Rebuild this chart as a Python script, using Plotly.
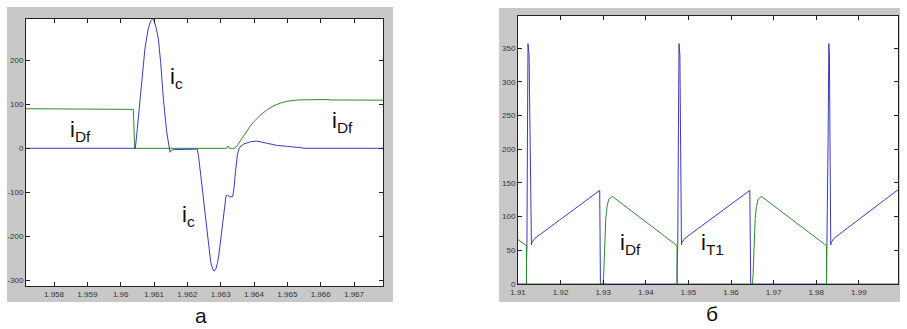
import plotly.graph_objects as go

# ---------------- Panel "а" data ----------------
a_ic_t = [1.95716, 1.96044, 1.96050, 1.96058, 1.96065, 1.96073, 1.96083, 1.96090, 1.96095,
          1.96100, 1.96106, 1.96113, 1.96120, 1.96128, 1.96138, 1.96145, 1.96148, 1.96152,
          1.96158, 1.96220, 1.96230, 1.96234, 1.96240, 1.96250, 1.96263, 1.96270, 1.96275,
          1.96280, 1.96285, 1.96290, 1.96295, 1.96300, 1.96308, 1.96316, 1.96320, 1.96326,
          1.96336, 1.96340, 1.96345, 1.96350, 1.96356, 1.96370, 1.96390, 1.96408, 1.96430,
          1.96450, 1.96470, 1.96500, 1.96530, 1.96545, 1.96550, 1.96787]
a_ic = [0, 0, 45, 113, 175, 228, 273, 290, 294,
        291, 275, 250, 195, 114, 38, -2, -9, -5,
        -3, -2, -2, -20, -60, -138, -224, -258, -272,
        -279, -276, -262, -240, -205, -160, -108, -106, -110,
        -110, -90, -50, -15, 2, 10, 15, 16.5, 13,
        9, 6.5, 4.5, 3, 1, 0, 0]

a_idf_t = [1.95716, 1.95940, 1.95943, 1.96038, 1.96042, 1.96318, 1.96322, 1.96326, 1.96341,
           1.96350, 1.96360, 1.96370, 1.96380, 1.96390, 1.96400, 1.96420, 1.96440, 1.96460,
           1.96480, 1.96500, 1.96530, 1.96570, 1.96620, 1.96628, 1.96787]
a_idf = [90, 90, 88.5, 88.5, 0, 0, 5, 0, 0,
         6, 18, 30, 42, 52, 61, 76, 88, 97,
         103, 107, 110, 111, 111, 110, 109.5]

a_xticks = [1.958, 1.959, 1.960, 1.961, 1.962, 1.963, 1.964, 1.965, 1.966, 1.967]
a_xlabels = ["1.958", "1.959", "1.96", "1.961", "1.962", "1.963", "1.964", "1.965", "1.966", "1.967"]
a_yticks = [-300, -200, -100, 0, 100, 200]
a_ylabels = ["-300", "-200", "-100", "0", "100", "200"]

# ---------------- Panel "б" data ----------------
b_it1_t = [1.91000, 1.91197, 1.91199, 1.91210, 1.91222, 1.91235, 1.91260, 1.91290, 1.91315,
           1.91330, 1.91400, 1.92918, 1.92935, 1.94733, 1.94736, 1.94750, 1.94765, 1.94780,
           1.94800, 1.94815, 1.94837, 1.94850, 1.94920, 1.96441, 1.96463, 1.98241, 1.98244,
           1.98260, 1.98280, 1.98296, 1.98310, 1.98325, 1.98342, 1.98355, 1.98420, 1.99920]
b_it1 = [0, 0, 30, 57, 220, 357, 340, 200, 58,
         62, 68, 139, 0, 0, 30, 57, 220, 357,
         340, 200, 58, 62, 68, 139, 0, 0, 30,
         57, 220, 357, 340, 200, 58, 62, 68, 140]

b_idf_t = [1.91000, 1.91197, 1.91200, 1.92996, 1.93010, 1.93020, 1.93040, 1.93060, 1.93090,
           1.93130, 1.93216, 1.94733, 1.94736, 1.96503, 1.96517, 1.96527, 1.96547, 1.96567,
           1.96597, 1.96637, 1.96715, 1.98241, 1.98244, 1.99920]
b_idf = [66, 57, 0, 0, 12, 35, 72, 97, 115,
         126, 130, 57, 0, 0, 12, 35, 72, 97,
         115, 126, 130, 57, 0, 0]

b_xticks = [1.91, 1.92, 1.93, 1.94, 1.95, 1.96, 1.97, 1.98, 1.99]
b_xlabels = ["1.91", "1.92", "1.93", "1.94", "1.95", "1.96", "1.97", "1.98", "1.99"]
b_yticks = [0, 50, 100, 150, 200, 250, 300, 350]
b_ylabels = ["0", "50", "100", "150", "200", "250", "300", "350"]

BLUE = "#3a3ac4"
GREEN = "#2e8a2e"
GRAY = "#c8c8c8"
W, H = 907, 329


def px_x(p):
    return p / W


def px_y(p):
    return 1 - p / H


def strip(x0, y0, x1, y1):
    return dict(type="rect", xref="paper", yref="paper",
                x0=px_x(x0), x1=px_x(x1), y0=px_y(y1), y1=px_y(y0),
                fillcolor=GRAY, line=dict(width=0), layer="below")


def frame(ox0, oy0, ox1, oy1, ix0, iy0, ix1, iy1):
    return [strip(ox0, oy0, ox1, iy0), strip(ox0, iy1, ox1, oy1),
            strip(ox0, iy0, ix0, iy1), strip(ix1, iy0, ox1, iy1)]


fig = go.Figure()
fig.add_trace(go.Scatter(x=a_idf_t, y=a_idf, mode="lines", line=dict(color=GREEN, width=1),
                         xaxis="x", yaxis="y", showlegend=False))
fig.add_trace(go.Scatter(x=a_ic_t, y=a_ic, mode="lines", line=dict(color=BLUE, width=1),
                         xaxis="x", yaxis="y", showlegend=False))
fig.add_trace(go.Scatter(x=b_it1_t, y=b_it1, mode="lines", line=dict(color=BLUE, width=1),
                         xaxis="x2", yaxis="y2", showlegend=False))
fig.add_trace(go.Scatter(x=b_idf_t, y=b_idf, mode="lines", line=dict(color=GREEN, width=1),
                         xaxis="x2", yaxis="y2", showlegend=False))

tickfont = dict(family="Liberation Sans, Arial", size=8, color="#333333")
common = dict(showgrid=False, zeroline=False, showline=True, linecolor="#222222", linewidth=1,
              ticks="inside", ticklen=4, tickcolor="#222222", mirror="ticks",
              tickfont=tickfont, tickmode="array", automargin=False)

fig.update_layout(
    template="none",
    width=W, height=H,
    margin=dict(l=0, r=0, t=0, b=0, autoexpand=False),
    paper_bgcolor="#ffffff", plot_bgcolor="#ffffff",
    xaxis=dict(domain=[px_x(26), px_x(383)], range=[1.95716, 1.96787], anchor="y",
               tickvals=a_xticks, ticktext=a_xlabels, **common),
    yaxis=dict(domain=[px_y(286), px_y(19)], range=[-313, 294], anchor="x",
               tickvals=a_yticks, ticktext=a_ylabels, **common),
    xaxis2=dict(domain=[px_x(518), px_x(898)], range=[1.91, 1.9992], anchor="y2",
                tickvals=b_xticks, ticktext=b_xlabels, **common),
    yaxis2=dict(domain=[px_y(284), px_y(16)], range=[0, 398], anchor="x2",
                tickvals=b_yticks, ticktext=b_ylabels, **common),
    shapes=frame(7, 7, 393, 302, 26, 19, 383, 286) + frame(499, 8, 900, 302, 518, 16, 898, 284),
)

lab = dict(family="Liberation Sans, Arial", size=22, color="#111111")
fig.add_annotation(x=1.95878, y=39, xref="x", yref="y", text="i<sub>Df</sub>", showarrow=False, font=lab)
fig.add_annotation(x=1.96168, y=160, xref="x", yref="y", text="i<sub>c</sub>", showarrow=False, font=lab)
fig.add_annotation(x=1.96664, y=60, xref="x", yref="y", text="i<sub>Df</sub>", showarrow=False, font=lab)
fig.add_annotation(x=1.96204, y=-153, xref="x", yref="y", text="i<sub>c</sub>", showarrow=False, font=lab)
fig.add_annotation(x=1.93634, y=60, xref="x2", yref="y2", text="i<sub>Df</sub>", showarrow=False, font=lab)
fig.add_annotation(x=1.95560, y=60, xref="x2", yref="y2", text="i<sub>T1</sub>", showarrow=False, font=lab)

big = dict(family="Liberation Sans, Arial", size=21, color="#111111")
fig.add_annotation(x=px_x(201), y=px_y(315), xref="paper", yref="paper", text="а",
                   showarrow=False, font=big, xanchor="center", yanchor="middle")
fig.add_annotation(x=px_x(712), y=px_y(313), xref="paper", yref="paper", text="б",
                   showarrow=False, font=big, xanchor="center", yanchor="middle")

fig.write_html("out.html", config={"displayModeBar": False},
               post_script="document.body.style.margin='0';document.body.style.overflow='hidden';")
